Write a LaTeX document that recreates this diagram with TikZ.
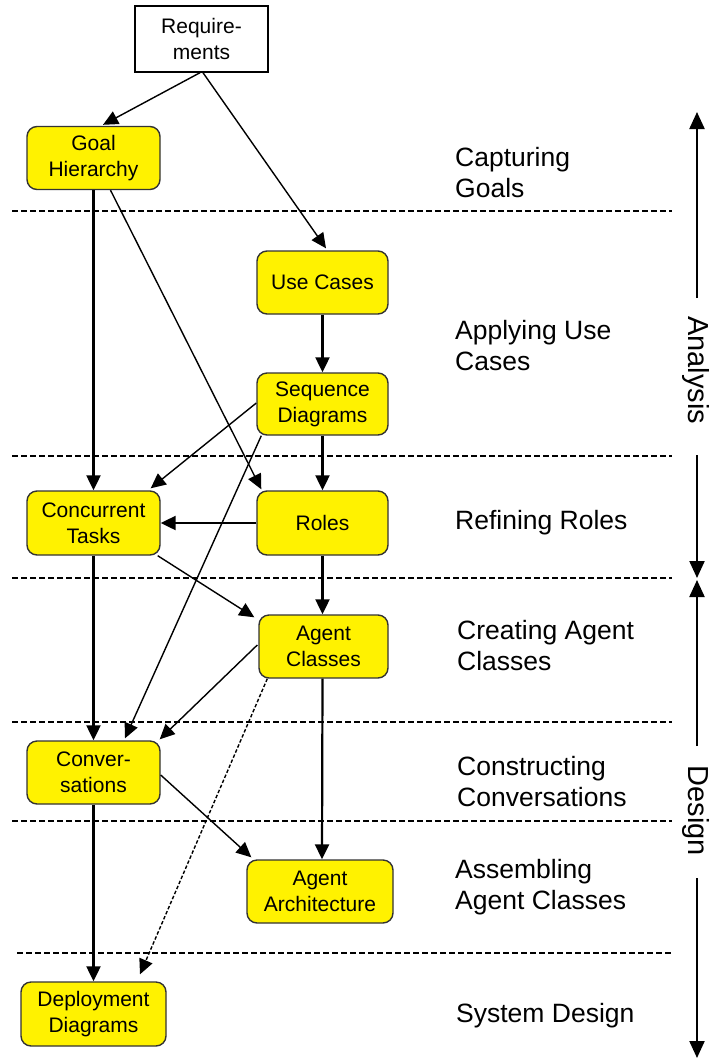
\documentclass[tikz,border=0pt]{standalone}
\usepackage{fontspec}
\setmainfont{Liberation Sans}
\usetikzlibrary{arrows.meta}
\begin{document}
\begin{tikzpicture}[x=1pt,y=-1pt,
  box/.style={draw=black!80, line width=1.4pt, fill=yellow, rounded corners=10pt,
    minimum width=#1, minimum height=63pt, inner sep=0pt, align=center,
    font=\fontsize{21}{26}\selectfont},
  box/.default=133pt,
  reqbox/.style={draw=black, line width=1.4pt, fill=white, minimum width=133pt,
    minimum height=66pt, inner sep=0pt, align=center, font=\fontsize{21}{26}\selectfont},
  phase/.style={anchor=west, inner sep=0pt, align=left, font=\fontsize{26.5}{31}\selectfont},
  side/.style={inner sep=0pt, rotate=-90, font=\fontsize{29}{34}\selectfont},
  sep/.style={line width=1.3pt, dash pattern=on 6pt off 3pt},
  mainarr/.style={line width=2.2pt, -{Triangle[length=15pt,width=14pt]}},
  thinarr/.style={line width=1.4pt, -{Triangle[length=15pt,width=14pt]}},
  dasharr/.style={line width=1.4pt, dash pattern=on 3.5pt off 2pt, -{Triangle[length=15pt,width=14pt]}},
  bigarr/.style={line width=2.2pt, -{Triangle[length=17pt,width=15pt]}}
]
\useasboundingbox (0,0) rectangle (711,1061);

% separators
\draw[sep] (12,211) -- (672,211);
\draw[sep] (12,456) -- (672,456);
\draw[sep] (12,578) -- (672,578);
\draw[sep] (12,722) -- (672,722);
\draw[sep] (12,821) -- (672,821);
\draw[sep] (17,953) -- (672,953);

% nodes
\node[reqbox] (req) at (201.5,39) {Require-\\ments};
\node[box] (goal) at (93.5,158) {Goal\\Hierarchy};
\node[box=131pt] (usec) at (322.5,282.5) {Use Cases};
\node[box=131pt, minimum height=62pt] (seq) at (322.5,404) {Sequence\\Diagrams};
\node[box, minimum height=64pt] (conc) at (93.5,523) {Concurrent\\Tasks};
\node[box=131pt, minimum height=64pt] (roles) at (322.5,523) {Roles};
\node[box=129pt] (agcl) at (323.5,646.5) {Agent\\Classes};
\node[box] (conv) at (93.5,772.5) {Conver-\\sations};
\node[box=146pt] (arch) at (320,891.5) {Agent\\Architecture};
\node[box=145pt, minimum height=64pt] (depl) at (93.5,1014) {Deployment\\Diagrams};

% phase labels
\node[phase] (p1) at (455,173) {Capturing\\Goals};
\node[phase] (p2) at (455,345.5) {Applying Use\\Cases};
\node[phase] (p3) at (455,523) {Refining Roles};
\node[phase] (p4) at (457,645.5) {Creating Agent\\Classes};
\node[phase] (p5) at (457,781.5) {Constructing\\Conversations};
\node[phase] (p6) at (455,887) {Assembling\\Agent Classes};
\node[phase] (p7) at (456,1016) {System Design};

% side arrows
\node[side] (an) at (696,370) {Analysis};
\node[side] (de) at (696,811) {Design};
\coordinate (a1) at (697,298);
\coordinate (a1t) at (697,112);
\coordinate (a2) at (697,455);
\coordinate (a2t) at (697,578);
\coordinate (d1) at (697,746);
\coordinate (d1t) at (697,580);
\coordinate (d2) at (697,878);
\coordinate (d2t) at (697,1058);
\draw[bigarr] (a1) -- (a1t);
\draw[bigarr] (a2) -- (a2t);
\draw[bigarr] (d1) -- (d1t);
\draw[bigarr] (d2) -- (d2t);

% connectors
\draw[thinarr] ([xshift=-1.5pt]req.south) -- ([xshift=9.5pt,yshift=1pt]goal.north);
\draw[thinarr] ([xshift=1.5pt]req.south) -- ([xshift=3.5pt,yshift=2pt]usec.north);
\draw[mainarr] (goal.south) -- (conc.north);
\draw[thinarr] ([xshift=17pt]goal.south) -- ([xshift=5pt,yshift=1pt]roles.north west);
\draw[mainarr] (usec.south) -- (seq.north);
\draw[thinarr] ([yshift=1pt]seq.west) -- ([xshift=-10pt,yshift=2pt]conc.north east);
\draw[thinarr] ([xshift=5pt]seq.south west) -- ([xshift=31.5pt,yshift=2pt]conv.north);
\draw[mainarr] (seq.south) -- (roles.north);
\draw[mainarr] (roles.west) -- (conc.east);
\draw[mainarr] (conc.south) -- (conv.north);
\draw[thinarr] ([xshift=-3pt]conc.south east) -- ([xshift=-4pt,yshift=-3pt]agcl.north west);
\draw[mainarr] (roles.south) -- ([xshift=-1pt]agcl.north);
\draw[thinarr] ([xshift=-1pt,yshift=1.5pt]agcl.west) -- ([xshift=-1pt,yshift=1pt]conv.north east);
\draw[dasharr] ([xshift=9pt]agcl.south west) -- ([xshift=46.5pt,yshift=7pt]depl.north);
\draw[mainarr] ([xshift=-1pt]agcl.south) -- ([xshift=2pt]arch.north);
\draw[thinarr] ([yshift=-2.5pt]conv.east) -- ([xshift=5pt,yshift=2pt]arch.north west);
\draw[mainarr] (conv.south) -- (depl.north);
\end{tikzpicture}
\end{document}
